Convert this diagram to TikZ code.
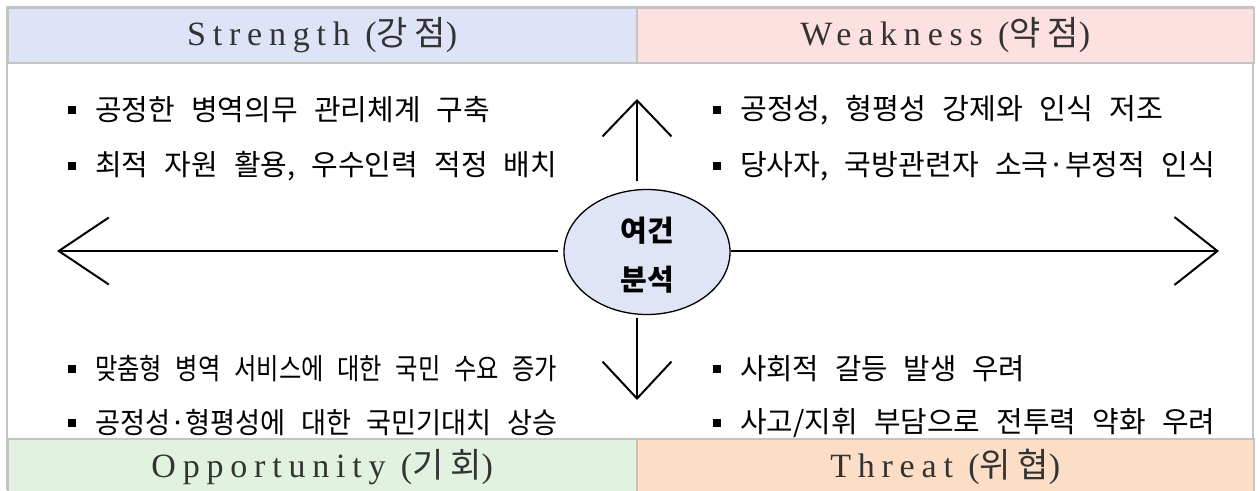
\documentclass[tikz,border=0pt]{standalone}
\usepackage{fontspec}
\usepackage{graphicx}
\setmainfont{Liberation Serif}
\newfontfamily\kr[WordSpace=2.5]{Noto Sans CJK KR}
\newfontfamily\hdr[LetterSpace=20]{Liberation Serif}
\newfontfamily\hdrkr[LetterSpace=20]{Noto Sans CJK KR}
\usetikzlibrary{arrows.meta,shapes.geometric}
\definecolor{sC}{HTML}{DFE3F7}
\definecolor{wC}{HTML}{FDE0E0}
\definecolor{oC}{HTML}{E2F2E0}
\definecolor{tC}{HTML}{FCDDC5}
\definecolor{frameC}{HTML}{C4C4C4}
\definecolor{ellC}{HTML}{DFE4F7}
\definecolor{txtC}{HTML}{333333}
\newcommand\fitw[2]{\resizebox{#1pt}{\height}{#2}}
\tikzset{
  hdrbox/.style={draw=frameC, line width=1.5pt, minimum height=55pt, inner sep=0pt, anchor=north west, text=txtC, font=\fontsize{34}{40}\selectfont\hdr},
  bul/.style={fill=black, minimum size=8.5pt, inner sep=0pt},
  item/.style={anchor=west, inner sep=0pt, font=\fontsize{29}{34}\selectfont\kr},
  elltxt/.style={inner sep=0pt, font=\fontsize{29}{34}\selectfont\kr\bfseries},
  arr/.style={line width=2pt, black},
}
\begin{document}
\begin{tikzpicture}[x=1pt,y=-1pt]
\useasboundingbox (0,0) rectangle (1260,490);
\fill[white] (0,0) rectangle (1260,490);
% frame sides
\draw[frameC, line width=1.5pt] (7,490) -- (7,7) -- (1253,7) -- (1253,490);
% headers
\node[hdrbox, fill=sC, minimum width=629pt] (S) at (7,7) {Strength ({\hdrkr 강점})};
\node[hdrbox, fill=wC, minimum width=617pt] (W) at (636,7) {Weakness ({\hdrkr 약점})};
\node[hdrbox, fill=oC, minimum width=629pt, minimum height=56pt] (O) at (7,438) {Opportunity ({\hdrkr 기회})};
\node[hdrbox, fill=tC, minimum width=617pt, minimum height=56pt] (T) at (636,438) {Threat ({\hdrkr 위협})};
% ellipse
\node[ellipse, draw=black, line width=1.3pt, fill=ellC, minimum width=166pt, minimum height=125pt] (E) at (647,252) {};
\node[elltxt] (E1) at (647,231) {여건};
\node[elltxt] (E2) at (647,280) {분석};
% arrows
\coordinate (LS) at (558,251);
\coordinate (LT) at (57,251);
\coordinate (RS) at (731,251);
\coordinate (RT) at (1219,251);
\coordinate (US) at (637,181);
\coordinate (UT) at (637,99);
\coordinate (DS) at (637,318);
\coordinate (DT) at (637,400);
\draw[arr, -{Straight Barb[length=50pt,width=67pt]}] (LS) -- (LT);
\draw[arr, -{Straight Barb[length=43pt,width=68pt]}] (RS) -- (RT);
\draw[arr, -{Straight Barb[length=36pt,width=69pt]}] (US) -- (UT);
\draw[arr, -{Straight Barb[length=37pt,width=69pt]}] (DS) -- (DT);
% bullets left top
\node[bul] (b1) at (72,110) {};
\node[item] (t1) at (95,110) {\fitw{395}{공정한 병역의무 관리체계 구축}};
\node[bul] (b2) at (72,166) {};
\node[item] (t2) at (95,166) {\fitw{462}{최적 자원 활용, 우수인력 적정 배치}};
% right top
\node[bul] (b3) at (717,110) {};
\node[item] (t3) at (740,110) {\fitw{423}{공정성, 형평성 강제와 인식 저조}};
\node[bul] (b4) at (717,166) {};
\node[item] (t4) at (740,166) {\fitw{475}{당사자, 국방관련자 소극·부정적 인식}};
% left bottom
\node[bul] (b5) at (72,369) {};
\node[item] (t5) at (95,369) {\fitw{462}{맞춤형 병역 서비스에 대한 국민 수요 증가}};
\node[bul] (b6) at (72,423) {};
\node[item] (t6) at (95,423) {\fitw{462}{공정성·형평성에 대한 국민기대치 상승}};
% right bottom
\node[bul] (b7) at (717,369) {};
\node[item] (t7) at (740,369) {\fitw{285}{사회적 갈등 발생 우려}};
\node[bul] (b8) at (717,423) {};
\node[item] (t8) at (740,423) {\fitw{475}{사고/지휘 부담으로 전투력 약화 우려}};
\end{tikzpicture}
\end{document}
